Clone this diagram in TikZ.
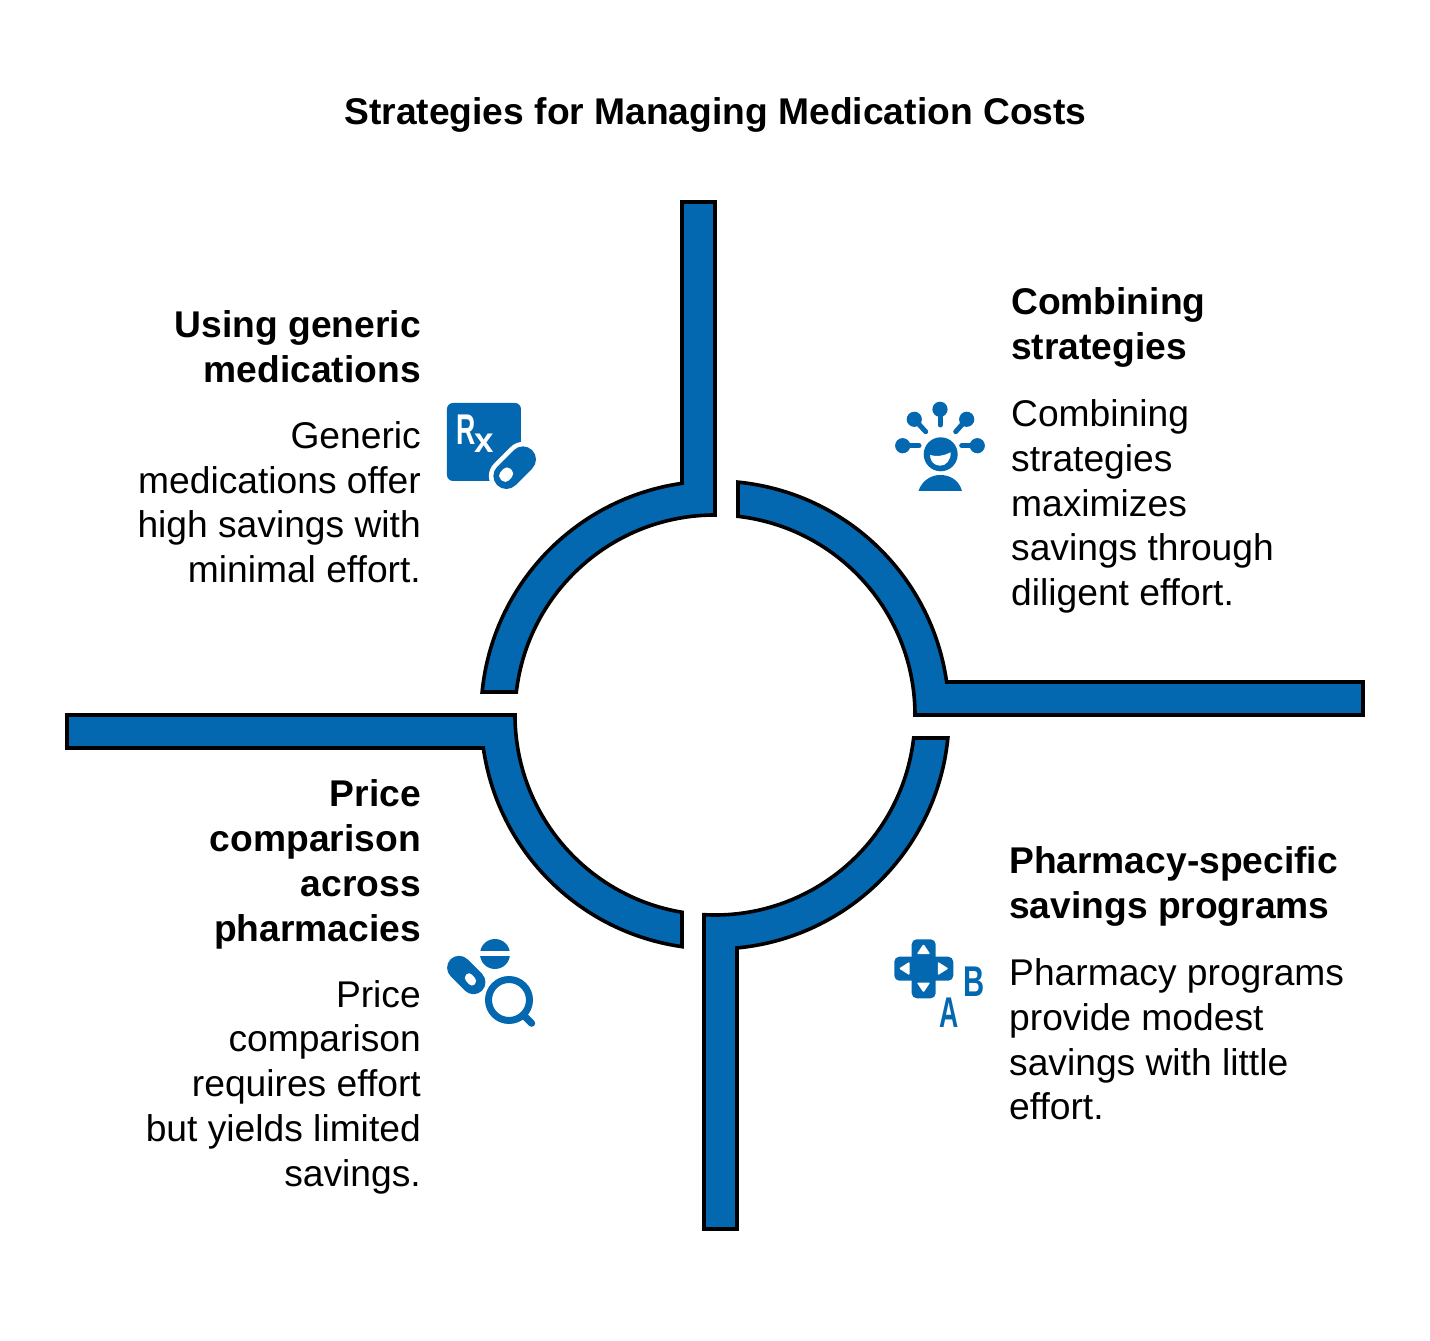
\documentclass[tikz,border=0pt]{standalone}
\usepackage{fontspec}
\setmainfont{Liberation Sans}
\usepackage{tikz}
\usetikzlibrary{positioning}
\definecolor{ringblue}{HTML}{0468B1}
\tikzset{
    ring/.style={draw=black, fill=ringblue, line width=3.6pt, miter limit=10},
    icon/.style={fill=ringblue, draw=none},
    cut/.style={fill=white, draw=none},
    stem/.style={draw=ringblue, line width=5pt, line cap=round},
    glyph/.style={inner sep=0pt, transform shape, font=\fontsize{43}{43}\selectfont\bfseries},
    title/.style={inner sep=0pt, font=\fontsize{37.2}{44.7}\selectfont\bfseries},
    headleft/.style={inner sep=0pt, anchor=north east, align=right, font=\fontsize{37.2}{45}\selectfont\bfseries},
    headright/.style={inner sep=0pt, anchor=north west, align=left, font=\fontsize{37.2}{45}\selectfont\bfseries},
    bodyleft/.style={inner sep=0pt, anchor=north east, align=right, font=\fontsize{37.2}{44.7}\selectfont},
    bodyright/.style={inner sep=0pt, anchor=north west, align=left, font=\fontsize{37.2}{44.7}\selectfont}
}
\begin{document}
\begin{tikzpicture}[x=1pt, y=1pt]
    \useasboundingbox (-715,-626) rectangle (715,715);

    \draw[ring] (90:200) arc[start angle=90, end angle=173.4, radius=200pt]
        -- (174.36:234) arc[start angle=174.36, end angle=98.1, radius=234pt]
        -- (-33,513) -- (0,513) -- cycle;
    \draw[ring] (83.4:200) arc[start angle=83.4, end angle=0, radius=200pt]
        -- (648,0) -- (648,33) -- (8.1:234)
        arc[start angle=8.1, end angle=84.36, radius=234pt] -- cycle;
    \draw[ring] (266.85:200) arc[start angle=266.85, end angle=353.4, radius=200pt]
        -- (354.36:234) arc[start angle=354.36, end angle=275.4, radius=234pt]
        -- (22,-514) -- (-11,-514) -- cycle;
    \draw[ring] (180:200) arc[start angle=180, end angle=260.5, radius=200pt]
        -- (261.9:234) arc[start angle=261.9, end angle=188.1, radius=234pt]
        -- (-648,-33) -- (-648,0) -- cycle;

    \node[title] (mainTitle) at (0.5,600) {Strategies for Managing Medication Costs};

    \node[headleft] (genericHead) at (-294,405) {Using generic\\medications};
    \node[bodyleft, below=38.5pt of genericHead.south east, anchor=north east] (genericText) {Generic\\medications offer\\high savings with\\minimal effort.};

    \node[headright] (combineHead) at (296,428) {Combining\\strategies};
    \node[bodyright, below=32.5pt of combineHead.south west, anchor=north west] (combineText) {Combining\\strategies\\maximizes\\savings through\\diligent effort.};

    \node[headleft] (priceHead) at (-294,-64) {Price\\comparison\\across\\pharmacies};
    \node[bodyleft, below=31pt of priceHead.south east, anchor=north east] (priceText) {Price\\comparison\\requires effort\\but yields limited\\savings.};

    \node[headright] (pharmacyHead) at (294,-131) {Pharmacy-specific\\savings programs};
    \node[bodyright, below=32.5pt of pharmacyHead.south west, anchor=north west] (pharmacyText) {Pharmacy programs\\provide modest\\savings with little\\effort.};

    \begin{scope}[shift={(-715,715)}, y=-1pt]
        % Rx and capsule
        \fill[icon, rounded corners=6pt] (447,403) rectangle (521,481);
        \node[glyph, text=white, anchor=base west] (rxMark) at (456,445)
            {\scalebox{.62}[1]{R}\kern-1pt\raisebox{-8pt}{\fontsize{35}{35}\selectfont x}};
        \draw[white, line width=35pt, line cap=round] (506.4,476) -- (523,459.4);
        \draw[ringblue, line width=26pt, line cap=round] (506.4,476) -- (523,459.4);
        \fill[cut, rounded corners=5pt] (506.7,465.3) -- (515.3,473.3) -- (505.7,484) -- (497,476) -- cycle;

        % person with rays
        \draw[stem] (940,409) -- (940,425);
        \draw[stem] (914.3,419.3) -- (925.7,431.7);
        \draw[stem] (966.7,419.3) -- (955.7,431.7);
        \draw[stem] (902.7,445.7) -- (919,445.7);
        \draw[stem] (977.3,445.7) -- (961.7,445.7);
        \foreach \px/\py in {940/409.3, 914.3/419.3, 966.7/419.3, 902.7/445.7, 977.3/445.7}
            \fill[icon] (\px,\py) circle[radius=7.6pt];
        \fill[icon] (940.7,454.3) circle[radius=17pt];
        \fill[cut] (930,455) .. controls (936,457) and (944,456) .. (950.7,452.3)
            .. controls (951,460) and (946,466) .. (940,465.7)
            .. controls (934,465.5) and (930,461) .. (930,455) -- cycle;
        \fill[icon] (918.5,491) .. controls (922,480) and (932,475) .. (940,475)
            .. controls (950,475) and (959,480) .. (962,491) -- cycle;

        % pad with letters
        \fill[icon, rounded corners=5pt] (911.7,939.3) rectangle (935.7,998.3);
        \fill[icon, rounded corners=5pt] (894.3,956.7) rectangle (953.3,980.7);
        \fill[cut, rounded corners=1pt] (923.5,944) -- (930.2,954) -- (916.8,954) -- cycle;
        \fill[cut, rounded corners=1pt] (923.5,992.5) -- (930.2,982.5) -- (916.8,982.5) -- cycle;
        \fill[cut, rounded corners=1pt] (899,968.5) -- (909.5,961.8) -- (909.5,975.2) -- cycle;
        \fill[cut, rounded corners=1pt] (948.4,968.5) -- (937.9,961.8) -- (937.9,975.2) -- cycle;
        \node[glyph, text=ringblue, xscale=.68] (padB) at (974,981.5) {B};
        \node[glyph, text=ringblue, xscale=.62] (padA) at (948.8,1013) {A};

        % tablet, capsule and lens
        \fill[icon] (495,954) circle[radius=15pt];
        \fill[cut] (478,951) rectangle (512,956);
        \draw[ringblue, line width=24pt, line cap=round] (459.1,967.8) -- (473.5,982.2);
        \fill[cut, rounded corners=4pt] (469,971.5) -- (463.3,978) -- (472,987.3) -- (477.7,981) -- cycle;
        \draw[ringblue, line width=7pt] (509,1000) circle[radius=20.5pt];
        \draw[ringblue, line width=7pt, line cap=round] (523.3,1015) -- (531.7,1023.3);
    \end{scope}
\end{tikzpicture}
\end{document}
